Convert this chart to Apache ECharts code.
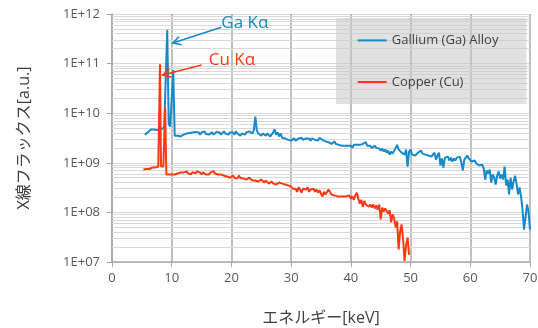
<!DOCTYPE html>
<html>
<head>
<meta charset="utf-8">
<script src="https://cdn.jsdelivr.net/npm/echarts@6/dist/echarts.min.js"></script>
<style>
  html, body { margin: 0; padding: 0; background: #fff; }
  #chart { width: 538px; height: 328px; }
</style>
</head>
<body>
<div id="chart"></div>
<script>
// X-ray flux spectra, [energy keV, flux a.u.]
const seriesNames = ['Gallium (Ga) Alloy', 'Copper (Cu)'];

const gaSpectrum = [
  [5.5,3.7e9],[5.75,3.9e9],[6.0,4.1e9],[6.25,4.0e9],[6.5,4.7e9],[6.75,4.4e9],[7.0,4.7e9],[7.25,4.9e9],
  [7.5,4.6e9],[7.75,4.9e9],[8.0,4.7e9],[8.25,5.0e9],[8.5,4.9e9],[8.75,5.4e9],[9.0,5.1e9],[9.25,4.8e11],
  [9.5,6.0e9],[9.75,5.4e9],[10.0,5.6e9],[10.25,7.4e10],[10.5,3.5e9],[10.75,3.4e9],[11.0,3.5e9],[11.25,3.6e9],
  [11.5,3.4e9],[11.75,3.5e9],[12.0,3.7e9],[12.25,3.5e9],[12.5,3.9e9],[12.75,3.7e9],[13.0,4.0e9],[13.25,3.9e9],
  [13.5,4.1e9],[13.75,3.9e9],[14.0,4.2e9],[14.25,3.9e9],[14.5,4.1e9],[14.75,3.7e9],[15.0,4.1e9],[15.25,3.9e9],
  [15.5,4.3e9],[15.75,3.8e9],[16.0,4.1e9],[16.25,3.7e9],[16.5,3.9e9],[16.75,4.1e9],[17.0,3.7e9],[17.25,3.9e9],
  [17.5,4.2e9],[17.75,3.9e9],[18.0,4.1e9],[18.25,3.7e9],[18.5,3.9e9],[18.75,4.3e9],[19.0,3.9e9],[19.25,4.1e9],
  [19.5,3.7e9],[19.75,4.1e9],[20.0,3.9e9],[20.25,4.1e9],[20.5,3.7e9],[20.75,4.3e9],[21.0,3.9e9],[21.25,4.1e9],
  [21.5,3.5e9],[21.75,3.9e9],[22.0,4.1e9],[22.25,3.7e9],[22.5,4.1e9],[22.75,3.9e9],[23.0,4.3e9],[23.25,4.1e9],
  [23.5,3.9e9],[23.75,4.5e9],[24.0,8.5e9],[24.25,4.5e9],[24.5,3.9e9],[24.75,3.7e9],[25.0,3.5e9],[25.25,3.9e9],
  [25.5,3.7e9],[25.75,3.5e9],[26.0,3.9e9],[26.25,3.7e9],[26.5,3.4e9],[26.75,3.7e9],[27.0,4.1e9],[27.25,4.7e9],
  [27.5,3.7e9],[27.75,4.1e9],[28.0,3.4e9],[28.25,3.9e9],[28.5,3.2e9],[28.75,3.5e9],[29.0,3.1e9],[29.25,3.4e9],
  [29.5,2.9e9],[29.75,3.1e9],[30.0,2.8e9],[30.25,2.9e9],[30.5,3.1e9],[30.75,2.8e9],[31.0,2.9e9],[31.25,3.1e9],
  [31.5,2.9e9],[31.75,3.2e9],[32.0,2.9e9],[32.25,2.8e9],[32.5,3.1e9],[32.75,2.9e9],[33.0,3.1e9],[33.25,2.8e9],
  [33.5,3.1e9],[33.75,3.2e9],[34.0,2.9e9],[34.25,3.1e9],[34.5,2.8e9],[34.75,3.2e9],[35.0,3.4e9],[35.25,2.9e9],
  [35.5,2.8e9],[35.75,2.7e9],[36.0,2.8e9],[36.25,2.6e9],[36.5,2.7e9],[36.75,2.4e9],[37.0,2.6e9],[37.25,2.7e9],
  [37.5,2.4e9],[37.75,2.6e9],[38.0,2.3e9],[38.25,2.4e9],[38.5,2.2e9],[38.75,2.3e9],[39.0,2.2e9],[39.25,2.4e9],
  [39.5,2.2e9],[39.75,2.1e9],[40.0,2.2e9],[40.25,2.0e9],[40.5,2.3e9],[40.75,2.2e9],[41.0,2.3e9],[41.25,2.1e9],
  [41.5,2.3e9],[41.75,2.2e9],[42.0,2.4e9],[42.25,2.3e9],[42.5,2.6e9],[42.75,2.2e9],[43.0,2.1e9],[43.25,2.2e9],
  [43.5,2.0e9],[43.75,2.1e9],[44.0,2.2e9],[44.25,2.0e9],[44.5,1.85e9],[44.75,1.94e9],[45.0,1.76e9],[45.25,1.94e9],
  [45.5,1.68e9],[45.75,1.85e9],[46.0,1.6e9],[46.25,1.76e9],[46.5,1.46e9],[46.75,1.68e9],[47.0,1.53e9],[47.25,1.76e9],
  [47.5,2.0e9],[47.75,2.3e9],[48.0,1.85e9],[48.25,1.76e9],[48.5,1.6e9],[48.75,1.68e9],[49.0,1.46e9],[49.25,1.85e9],
  [49.5,8.4e8],[49.75,1.68e9],[50.0,1.85e9],[50.25,1.46e9],[50.5,1.6e9],[50.75,1.4e9],[51.0,1.53e9],[51.25,1.6e9],
  [51.5,1.68e9],[51.75,1.76e9],[52.0,1.53e9],[52.25,1.6e9],[52.5,1.46e9],[52.75,1.53e9],[53.0,1.4e9],[53.25,1.46e9],
  [53.5,1.33e9],[53.75,1.4e9],[54.0,1.6e9],[54.25,1.16e9],[54.5,1.4e9],[54.75,1.6e9],[55.0,8.8e8],[55.25,1.22e9],
  [55.5,8.0e8],[55.75,1.27e9],[56.0,1.16e9],[56.25,1.33e9],[56.5,1.11e9],[56.75,1.27e9],[57.0,1.06e9],[57.25,1.22e9],
  [57.5,1.11e9],[57.75,1.27e9],[58.0,1.16e9],[58.25,1.33e9],[58.5,1.01e9],[58.75,7.0e8],[59.0,1.16e9],[59.25,1.27e9],
  [59.5,1.4e9],[59.75,1.22e9],[60.0,1.27e9],[60.25,1.06e9],[60.5,1.01e9],[60.75,1.11e9],[61.0,9.7e8],[61.25,1.01e9],
  [61.5,8.8e8],[61.75,9.2e8],[62.0,9.2e8],[62.25,7.7e8],[62.5,4.6e8],[62.75,7.0e8],[63.0,6.1e8],[63.25,7.3e8],
  [63.5,4.0e8],[63.75,5.8e8],[64.0,5.0e8],[64.25,3.65e8],[64.5,5.5e8],[64.75,6.7e8],[65.0,4.8e8],[65.25,5.8e8],
  [65.5,4.6e8],[65.75,8.4e8],[66.0,3.5e8],[66.25,4.6e8],[66.5,2.3e8],[66.75,5.0e8],[67.0,2.9e8],[67.25,4.2e8],
  [67.5,5.5e8],[67.75,3.8e8],[68.0,2.3e8],[68.25,3.2e8],[68.5,2.1e8],[68.75,1.14e8],[69.0,4.5e7],[69.25,7.9e7],
  [69.5,1.44e8],[69.75,1.04e8],[70.0,4.5e7]
];

const cuSpectrum = [
  [5.25,7.3e8],[5.5,7.3e8],[5.75,7.5e8],[6.0,7.7e8],[6.25,7.5e8],[6.5,7.7e8],[6.75,8.0e8],[7.0,7.8e8],
  [7.25,8.0e8],[7.5,7.8e8],[7.75,8.4e8],[7.9,8.8e8],[8.04,9.7e10],[8.2,8.5e8],[8.4,8.6e8],[8.6,8.4e8],
  [8.75,8.6e8],[8.9,1.3e10],[9.1,5.8e8],[9.25,5.8e8],[9.5,5.8e8],[9.75,6.1e8],[10.0,5.8e8],[10.25,6.1e8],
  [10.5,5.8e8],[10.75,6.2e8],[11.0,6.1e8],[11.25,5.8e8],[11.5,6.4e8],[11.75,5.9e8],[12.0,6.4e8],[12.25,6.1e8],
  [12.5,6.7e8],[12.75,6.1e8],[13.0,6.4e8],[13.25,5.9e8],[13.5,6.5e8],[13.75,6.4e8],[14.0,6.1e8],[14.25,6.7e8],
  [14.5,6.2e8],[14.75,6.4e8],[15.0,5.8e8],[15.25,6.4e8],[15.5,6.1e8],[15.75,5.8e8],[16.0,6.1e8],[16.25,5.8e8],
  [16.5,6.4e8],[16.75,6.1e8],[17.0,6.8e8],[17.25,6.1e8],[17.5,5.65e8],[17.75,5.8e8],[18.0,5.5e8],[18.25,5.8e8],
  [18.5,5.3e8],[18.75,5.5e8],[19.0,5.8e8],[19.25,5.3e8],[19.5,5.5e8],[19.75,5.0e8],[20.0,5.3e8],[20.25,5.5e8],
  [20.5,5.0e8],[20.75,5.3e8],[21.0,4.8e8],[21.25,5.5e8],[21.5,5.0e8],[21.75,5.3e8],[22.0,4.8e8],[22.25,5.0e8],
  [22.5,4.6e8],[22.75,4.8e8],[23.0,5.0e8],[23.25,4.6e8],[23.5,4.4e8],[23.75,4.8e8],[24.0,4.4e8],[24.25,4.6e8],
  [24.5,4.2e8],[24.75,4.4e8],[25.0,4.6e8],[25.25,4.2e8],[25.5,4.0e8],[25.75,4.4e8],[26.0,4.2e8],[26.25,3.8e8],
  [26.5,4.0e8],[26.75,4.2e8],[27.0,3.8e8],[27.25,4.0e8],[27.5,3.65e8],[27.75,3.8e8],[28.0,4.0e8],[28.25,3.65e8],
  [28.5,3.8e8],[28.75,3.5e8],[29.0,3.65e8],[29.25,3.8e8],[29.5,3.5e8],[29.75,3.2e8],[30.0,3.3e8],[30.25,3.0e8],
  [30.5,2.8e8],[30.75,3.0e8],[31.0,2.6e8],[31.25,3.2e8],[31.5,2.9e8],[31.75,2.5e8],[32.0,3.0e8],[32.25,2.8e8],
  [32.5,2.9e8],[32.75,3.2e8],[33.0,2.6e8],[33.25,2.9e8],[33.5,2.8e8],[33.75,3.0e8],[34.0,2.6e8],[34.25,2.9e8],
  [34.5,2.5e8],[34.75,2.8e8],[35.0,2.4e8],[35.25,2.1e8],[35.5,2.6e8],[35.75,2.3e8],[36.0,2.5e8],[36.25,2.9e8],
  [36.5,2.6e8],[36.75,2.3e8],[37.0,2.4e8],[37.25,2.2e8],[37.5,2.3e8],[37.75,2.1e8],[38.0,2.2e8],[38.25,2.1e8],
  [38.5,2.2e8],[38.75,2.1e8],[39.0,2.0e8],[39.25,2.1e8],[39.5,2.0e8],[39.75,2.2e8],[40.0,1.9e8],[40.25,2.1e8],
  [40.5,1.8e8],[40.75,2.2e8],[41.0,2.5e8],[41.25,1.9e8],[41.5,1.5e8],[41.75,1.8e8],[42.0,1.3e8],[42.25,1.7e8],
  [42.5,1.44e8],[42.75,1.58e8],[43.0,1.3e8],[43.25,1.44e8],[43.5,1.25e8],[43.75,1.44e8],[44.0,1.2e8],[44.25,1.38e8],
  [44.5,1.14e8],[44.75,1.44e8],[45.0,7.2e7],[45.25,1.25e8],[45.5,1.04e8],[45.75,1.2e8],[46.0,1.3e8],[46.25,9.5e7],
  [46.5,1.1e8],[46.75,6.3e7],[47.0,9.1e7],[47.25,7.5e7],[47.5,5.0e7],[47.75,6.6e7],[48.0,1.8e7],[48.25,4.1e7],
  [48.5,5.7e7],[48.75,2.8e7],[49.0,1.05e7],[49.25,2.2e7],[49.5,3.1e7],[49.75,1.4e7]
];

// Axis settings
const energyMin = 0, energyMax = 70, energyStep = 10;
const fluxMin = 1e7, fluxMax = 1e12;

// Peak annotations: label, text anchor, arrow start, arrow tip (data coords)
const peakNotes = [
  { text: 'Ga Kα', color: '#1689c9', textAt: [18.3, 6.6e11], from: [18.3, 5.4e11], to: [10.2, 2.6e11] },
  { text: 'Cu Kα', color: '#ff3814', textAt: [16.2, 1.2e11], from: [15.0, 9.4e10], to: [8.5, 5.9e10] }
];

const colors = ['#1689c9', '#ff3814'];
const FONT = '"Open Sans", "Noto Sans CJK JP", sans-serif';
// short horizontal stroke as legend key (outer moves keep the 29x14 box)
const LINE_KEY = 'path://M0,0M29,14M0,6L29,6L29,8L0,8Z';

// log-scale minor grid lines (2..9 within each decade)
const minorLines = [];
for (let e = 7; e < 12; e++) {
  for (let k = 2; k <= 9; k++) minorLines.push({ yAxis: k * Math.pow(10, e) });
}

const chart = echarts.init(document.getElementById('chart'), null, { renderer: 'canvas' });

chart.setOption({
  animation: false,
  backgroundColor: '#ffffff',
  textStyle: { fontFamily: FONT },
  grid: { left: 112, right: 8, top: 14, bottom: 66, containLabel: false, outerBoundsMode: 'none' },
  legend: {
    data: seriesNames.map(n => ({ name: n, icon: LINE_KEY })),
    orient: 'vertical',
    left: 336,
    top: 18,
    itemWidth: 29,
    itemHeight: 14,
    itemGap: 27.6,
    padding: [15.4, 28, 15, 21.7],
    backgroundColor: 'rgba(200,200,200,0.55)',
    textStyle: { fontSize: 13, color: '#404040', fontFamily: FONT }
  },
  xAxis: {
    type: 'value',
    min: energyMin, max: energyMax, interval: energyStep,
    name: 'エネルギー[keV]',
    nameLocation: 'middle',
    nameGap: 48,
    nameTextStyle: { fontSize: 16, color: '#404040', fontFamily: FONT },
    axisLine: { show: true, lineStyle: { color: '#a6a6a6', width: 1.5 } },
    axisTick: { show: true, length: 5, lineStyle: { color: '#a6a6a6' } },
    axisLabel: { fontSize: 13, color: '#595959', margin: 10 },
    splitLine: { show: true, lineStyle: { color: '#ababab', width: 1.5 } }
  },
  yAxis: {
    type: 'log',
    logBase: 10,
    min: fluxMin, max: fluxMax,
    name: 'X線フラックス[a.u.]',
    nameLocation: 'middle',
    nameGap: 80,
    nameTextStyle: { fontSize: 16, color: '#404040', fontFamily: FONT },
    axisLine: { show: true, lineStyle: { color: '#a6a6a6', width: 1.5 } },
    axisTick: { show: true, length: 5, lineStyle: { color: '#a6a6a6' } },
    axisLabel: {
      fontSize: 13, color: '#595959', margin: 12,
      formatter: v => {
        const e = Math.round(Math.log10(v));
        return '1E+' + (e < 10 ? '0' + e : e);
      }
    },
    splitLine: { show: true, lineStyle: { color: '#d9d9d9', width: 1 } }
  },
  series: [
    {
      name: '__grid',
      type: 'line',
      data: [],
      silent: true,
      markLine: {
        silent: true,
        z: 1,
        symbol: 'none',
        label: { show: false },
        emphasis: { disabled: true },
        lineStyle: { color: '#d9d9d9', width: 1, type: 'solid' },
        data: minorLines
      }
    },
    {
      name: seriesNames[0],
      type: 'line',
      data: gaSpectrum,
      symbol: 'none',
      showSymbol: false,
      z: 3,
      color: colors[0],
      lineStyle: { color: colors[0], width: 2 }
    },
    {
      name: seriesNames[1],
      type: 'line',
      data: cuSpectrum,
      symbol: 'none',
      showSymbol: false,
      z: 3,
      color: colors[1],
      lineStyle: { color: colors[1], width: 2 }
    }
  ]
});

// Arrow annotations placed from data coordinates
function noteGraphics(note) {
  const a = chart.convertToPixel({ gridIndex: 0 }, note.from);
  const b = chart.convertToPixel({ gridIndex: 0 }, note.to);
  const t = chart.convertToPixel({ gridIndex: 0 }, note.textAt);
  const ang = Math.atan2(b[1] - a[1], b[0] - a[0]);
  const len = 9, spread = 0.5;
  const w1 = [b[0] - len * Math.cos(ang - spread), b[1] - len * Math.sin(ang - spread)];
  const w2 = [b[0] - len * Math.cos(ang + spread), b[1] - len * Math.sin(ang + spread)];
  return [
    { type: 'line', z: 20, shape: { x1: a[0], y1: a[1], x2: b[0], y2: b[1] },
      style: { stroke: note.color, lineWidth: 1.6 } },
    { type: 'polyline', z: 20, shape: { points: [w1, b, w2] },
      style: { stroke: note.color, lineWidth: 1.6, fill: null } },
    { type: 'text', z: 20, x: t[0], y: t[1],
      style: { text: note.text, fill: note.color, fontSize: 17, fontFamily: FONT,
               align: 'left', verticalAlign: 'middle' } }
  ];
}

chart.setOption({ graphic: peakNotes.flatMap(noteGraphics) });
</script>
</body>
</html>
